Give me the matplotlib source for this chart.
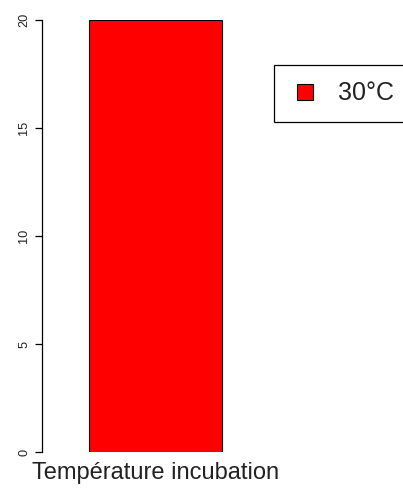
import matplotlib
matplotlib.use("Agg")
import matplotlib.pyplot as plt
from matplotlib.lines import Line2D

# Incubation temperature group and its count
groups = ["30°C"]
values = [20]
axis_label = "Température incubation"
y_ticks = [0, 5, 10, 15, 20]

plt.rcParams['font.family'] = ['Liberation Sans', 'DejaVu Sans']

W, H = 403, 491
fig = plt.figure(figsize=(W / 100, H / 100), dpi=100)
ax = fig.add_axes([41.5 / W, 39 / H, (W - 41.5) / W, (452 - 20) / H])

bar_w = 1.0
ax.bar([0], values, width=bar_w, color="red", edgecolor="black", linewidth=0.8)
ax.set_xlim(-0.5 - 47.5 / 133, 0.5 + 181 / 133)
ax.set_ylim(0, 20)

for side in ("top", "right", "bottom"):
    ax.spines[side].set_visible(False)
ax.spines["left"].set_linewidth(0.9)

ax.set_yticks(y_ticks)
ax.set_yticklabels([str(t) for t in y_ticks], rotation=90, va="center",
                   fontsize=9.2, color="#222222")
ax.tick_params(axis="y", length=5.2, width=0.9, pad=3)
ax.set_xticks([0])
ax.set_xticklabels([axis_label], fontsize=17, color="#222222")
ax.tick_params(axis="x", length=0, pad=7)

# square key like R's fill legend
handles = [Line2D([], [], linestyle="none", marker="s", markersize=12,
                  markerfacecolor="red", markeredgecolor="black",
                  markeredgewidth=0.8, label=g)
           for g in groups]
leg = fig.legend(handles=handles, loc="upper left",
                 bbox_to_anchor=(274 / W, 1 - 65 / H), fontsize=18,
                 fancybox=False, framealpha=1, edgecolor="black",
                 handlelength=1.16, handletextpad=0.74,
                 borderpad=0.66, borderaxespad=0)
leg.get_frame().set_linewidth(0.9)
for t in leg.get_texts():
    t.set_color("#222222")

fig.savefig("out.png", dpi=100)
